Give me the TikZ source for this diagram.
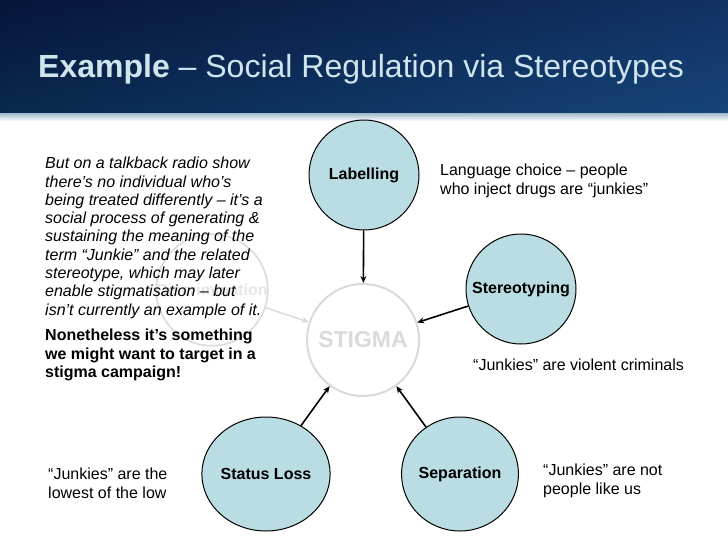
\documentclass[tikz,border=0pt]{standalone}
\usepackage{fontspec}
\setmainfont{Liberation Sans}
\usetikzlibrary{shapes.geometric,arrows.meta,positioning,calc}

\definecolor{hdrdark}{HTML}{06153A}
\definecolor{hdrblue}{HTML}{173B72}
\definecolor{bandblue}{HTML}{9DB9CB}
\definecolor{titleblue}{HTML}{CFE5EE}
\definecolor{bubble}{HTML}{B9DDE2}
\definecolor{ghost}{HTML}{DADADA}

\tikzset{
    stagecircle/.style={
        circle,                   % burbuja de cada etapa
        draw=black,
        fill=bubble,              % azul claro
        line width=1pt,
        minimum size=110pt,
        inner sep=0pt,
        font=\bfseries\fontsize{16}{18}\selectfont
    },
    stageoval/.style={
        stagecircle,
        ellipse,                  % las de abajo son algo ovaladas
        minimum width=108pt,
        minimum height=114pt
    },
    ghostcircle/.style={
        circle,
        draw=ghost,               % casi invisible
        line width=1.6pt,
        minimum size=110pt,
        inner sep=0pt,
        text=ghost!70,
        font=\bfseries\fontsize{16}{18}\selectfont
    },
    notetext/.style={
        anchor=north west,
        inner sep=0pt,
        align=left,
        font=\fontsize{16}{18.3}\selectfont
    }
}

\begin{document}
\begin{tikzpicture}[x=1pt,y=-1pt,>={Stealth[length=7pt,width=6pt]}]
    \useasboundingbox (0,0) rectangle (728,546);
    \fill[white] (0,0) rectangle (728,546);

    % cabecera
    \shade[left color=hdrdark, right color=hdrblue] (0,0) rectangle (728,113);
    \shade[top color=hdrdark, bottom color=hdrblue!80!cyan, opacity=0.25] (0,0) rectangle (728,113);
    \shade[top color=bandblue, bottom color=white] (0,113) rectangle (728,121);
    \node[anchor=base west, inner sep=0pt, text=titleblue,
          font=\fontsize{32}{34}\selectfont] (title) at (38,77)
        {\textbf{Example} – Social Regulation via Stereotypes};

    % etapa fantasma (detras del texto)
    \node[ghostcircle] (disc) at (212,290) {Discrimination};
    \node[circle, draw=ghost, line width=2pt, minimum size=112pt, text=ghost,
          font=\bfseries\fontsize{23}{25}\selectfont] (stig) at (363,340) {STIGMA};

    \node[stagecircle] (lab) at (364,175) {Labelling};
    \node[stagecircle] (ster) at (521,289) {Stereotyping};
    \node[stageoval] (loss) at (266,474) {Status Loss};
    \node[stageoval] (sep) at (460,474) {Separation};

    \draw[->,line width=1.6pt] (lab) -- (stig);
    \draw[->,line width=1.6pt] (ster) -- (stig);
    \draw[->,line width=1.6pt] (loss) -- (stig);
    \draw[->,line width=1.6pt] (sep) -- (stig);
    \draw[->,line width=1.4pt,draw=ghost] (disc) -- (stig);

    % textos
    \node[notetext, font=\itshape\fontsize{16}{18.3}\selectfont] (talk) at (45,157) {
        But on a talkback radio show\\
        there’s no individual who’s\\
        being treated differently – it’s a\\
        social process of generating \&\\
        sustaining the meaning of the\\
        term “Junkie” and the related\\
        stereotype, which may later\\
        enable stigmatisation – but\\
        isn’t currently an example of it.
    };
    \node[notetext, font=\bfseries\fontsize{16}{18.3}\selectfont] (target) at (45,329) {
        Nonetheless it’s something\\
        we might want to target in a\\
        stigma campaign!
    };

    \node[notetext] (langnote) at (440,164) {
        Language choice – people\\
        who inject drugs are “junkies”
    };
    \node[notetext] (sternote) at (473,359) {“Junkies” are violent criminals};
    \node[notetext] (lossnote) at (48,468) {
        “Junkies” are the\\
        lowest of the low
    };
    \node[notetext] (sepnote) at (543,464) {
        “Junkies” are not\\
        people like us
    };
\end{tikzpicture}
\end{document}
